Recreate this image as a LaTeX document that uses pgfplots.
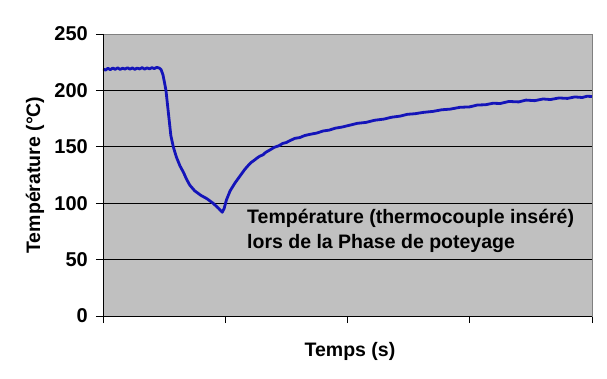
\documentclass[border=0pt]{standalone}
\usepackage{fontspec}
\setmainfont{Liberation Sans}
\usepackage{pgfplots}
\pgfplotsset{compat=1.18}
\definecolor{bggray}{RGB}{192,192,192}
\definecolor{bordergray}{RGB}{128,128,128}
\definecolor{lineblue}{RGB}{20,20,185}
\newcommand{\tfont}{\bfseries\fontsize{20bp}{22bp}\selectfont}
\newcommand{\lfont}{\bfseries\fontsize{19.5bp}{23bp}\selectfont}
\begin{document}
\begin{tikzpicture}
\begin{axis}[name=ax,
  scale only axis, width=489bp, height=282bp,
  xmin=0, xmax=400, ymin=0, ymax=250,
  xtick={0,100,...,400}, xticklabels={},
  ytick={0,50,...,250},
  yticklabels={0,50,100,150,200,250},
  xtick pos=left, ytick pos=left,
  tick align=outside, major tick length=7bp,
  tick style={black, line width=0.8pt},
  axis background/.style={fill=bggray},
  axis line style={bordergray, line width=0.8pt},
  ymajorgrids, grid style={black, line width=0.8pt},
  every y tick label/.style={font=\tfont, anchor=east, inner sep=0pt},
  yticklabel shift=8bp,
  xlabel={Temps (s)}, ylabel={Température (°C)},
  label style={font=\lfont},
  xlabel style={at={(axis description cs:0.505,-0.124)}, anchor=center},
  ylabel style={at={(axis description cs:-0.139,0.5)}, anchor=center},
]
\addplot[color=lineblue, line width=2.8bp, line join=round] coordinates {
(0,219) (2,218) (4,219.6) (6,218.4) (8,219.8) (10,218.7) (12,220) (14,218.6) (16,219.7) (18,218.9) (20,220.1) (22,218.8) (24,219.9) (26,218.7) (28,219.8) (30,219) (32,220.2) (34,218.9) (36,220) (38,219.1) (40,220.2) (42,219.3) (44,220.4) (46,219.8) (47.5,218.5)
(49,214) (50.3,207) (51.5,200) (52.5,190) (54,175) (55.5,160) (57.5,150) (60,141) (63,133) (66,127) (68,122) (71,116) (75,111) (80,107) (85,104) (90,100) (94.5,95.5) (97.5,92)
(99,95) (101,103) (104,111) (108,118) (111,122.5) (113,125.5) (116,130) (118,132.5) (121,136) (123,137.5) (126,140) (128,141.5) (131,143) (133,145) (137,147.5) (140,149.5) (144,151) (147,153) (150,153.8) (153,155.5) (157,157.5) (161,158.2) (165,160) (170,161.2) (175,162.2) (180,164) (185,164.8) (190,166.5) (196,167.6) (202,169.2) (208,170.8) (215,171.6) (222,173.5) (230,174.6) (236,176.2) (243,177.2) (249,178.8) (255,179.3) (262,180.5) (270,181.4) (277,182.8) (284,183.4) (292,185) (300,185.4) (306,187) (313,187.3) (319,188.6) (325,188.4) (332,190.2) (340,189.8) (346,191.4) (353,190.9) (360,192.4) (366,191.9) (373,193.3) (380,192.9) (386,194.2) (392,193.7) (396,194.8) (400,194.6)
};
\node[anchor=base west, inner sep=0pt, font=\lfont] at (axis cs:117.8,82.4) {Température (thermocouple inséré)};
\node[anchor=base west, inner sep=0pt, font=\lfont] at (axis cs:117.8,59.4) {lors de la Phase de poteyage};
\draw[black, line width=0.8pt] (rel axis cs:0,1) -- (rel axis cs:0,0) -- (rel axis cs:1,0);
\end{axis}
\pgfresetboundingbox
\path[use as bounding box] ([shift={(-103bp,-63bp)}]ax.south west) rectangle ([shift={(15bp,34bp)}]ax.north east);
\end{tikzpicture}
\end{document}
